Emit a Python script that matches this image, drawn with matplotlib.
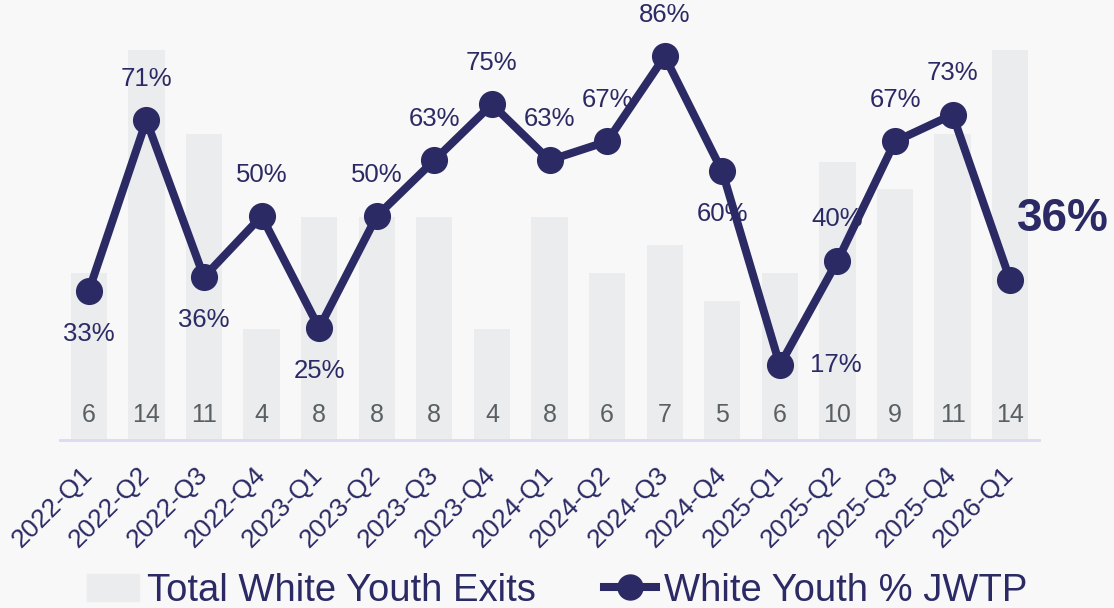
import matplotlib
matplotlib.use("Agg")
from matplotlib import pyplot as plt
from matplotlib.lines import Line2D
from matplotlib.patches import Patch

# data
quarters = ['2022-Q1', '2022-Q2', '2022-Q3', '2022-Q4', '2023-Q1', '2023-Q2',
            '2023-Q3', '2023-Q4', '2024-Q1', '2024-Q2', '2024-Q3', '2024-Q4',
            '2025-Q1', '2025-Q2', '2025-Q3', '2025-Q4', '2026-Q1']
total_exits = [6, 14, 11, 4, 8, 8, 8, 4, 8, 6, 7, 5, 6, 10, 9, 11, 14]
pct_jwtp = [33.3, 71.4, 36.4, 50.0, 25.0, 50.0, 62.5, 75.0, 62.5, 66.7,
            85.7, 60.0, 16.7, 40.0, 66.7, 72.7, 35.7]

# where each percentage label goes: a = above, b = below, r = right
label_side = ['b', 'a', 'b', 'a', 'b', 'a', 'a', 'a', 'a', 'a', 'a', 'b',
              'r', 'a', 'a', 'a', 'last']

NAVY = '#2b2a65'
BAR = '#ebecee'
BG = '#f8f8f8'

plt.rcParams['font.family'] = ['Liberation Sans', 'DejaVu Sans']

fig = plt.figure(figsize=(11.14, 6.08), dpi=100, facecolor=BG)
ax = fig.add_axes([60 / 1114, 168 / 608, 979 / 1114, 440 / 608])
ax.set_facecolor(BG)

x = list(range(len(quarters)))
ax.bar(x, total_exits, width=0.63, color=BAR, zorder=1)
ax.set_xlim(-0.5, len(quarters) - 0.5)
ax.set_ylim(0, 15.8)

for xi, n in zip(x, total_exits):
    ax.text(xi, 0.9, str(n), ha='center', va='center', fontsize=18,
            color='#596064', zorder=2)

for s in ['top', 'right', 'left']:
    ax.spines[s].set_visible(False)
ax.spines['bottom'].set_color('#dcd9f0')
ax.spines['bottom'].set_linewidth(2)
ax.set_yticks([])
ax.set_xticks(x)
ax.set_xticklabels(quarters, rotation=45, ha='right', va='center',
                   rotation_mode='anchor', fontsize=19, color=NAVY)
ax.tick_params(axis='x', length=0, pad=22)

# line on its own scale
ax2 = ax.twinx()
ax2.set_ylim(0, 98.3)
ax2.axis('off')
ax2.plot(x, pct_jwtp, color=NAVY, linewidth=5.8, marker='o', markersize=18.5,
         zorder=5, solid_joinstyle='miter')

for xi, v, side in zip(x, pct_jwtp, label_side):
    txt = '%d%%' % int(v + 0.5)
    if side == 'a':
        ax2.annotate(txt, (xi, v), xytext=(0, 30), textcoords='offset points',
                     ha='center', va='center', fontsize=18.5, color=NAVY, zorder=3)
    elif side == 'b':
        ax2.annotate(txt, (xi, v), xytext=(0, -31), textcoords='offset points',
                     ha='center', va='center', fontsize=18.5, color=NAVY, zorder=3)
    elif side == 'r':
        ax2.annotate(txt, (xi, v), xytext=(40, 0), textcoords='offset points',
                     ha='center', va='center', fontsize=18.5, color=NAVY, zorder=3)
    else:
        ax2.annotate(txt, (xi, v), xytext=(5, 44), textcoords='offset points',
                     ha='left', va='center', fontsize=33, fontweight='bold',
                     color=NAVY, zorder=3, annotation_clip=False)

handles = [Patch(color=BAR),
           Line2D([], [], color=NAVY, linewidth=5.8, marker='o', markersize=18)]
fig.legend(handles, ['Total White Youth Exits', 'White Youth % JWTP'],
           loc='lower center', bbox_to_anchor=(0.5, -0.045), ncol=2, frameon=False,
           fontsize=27.5, labelcolor=NAVY, handlelength=1.36, handletextpad=0.2,
           columnspacing=1.8, borderpad=0.2)

fig.savefig('out.png', dpi=100, facecolor=BG)
